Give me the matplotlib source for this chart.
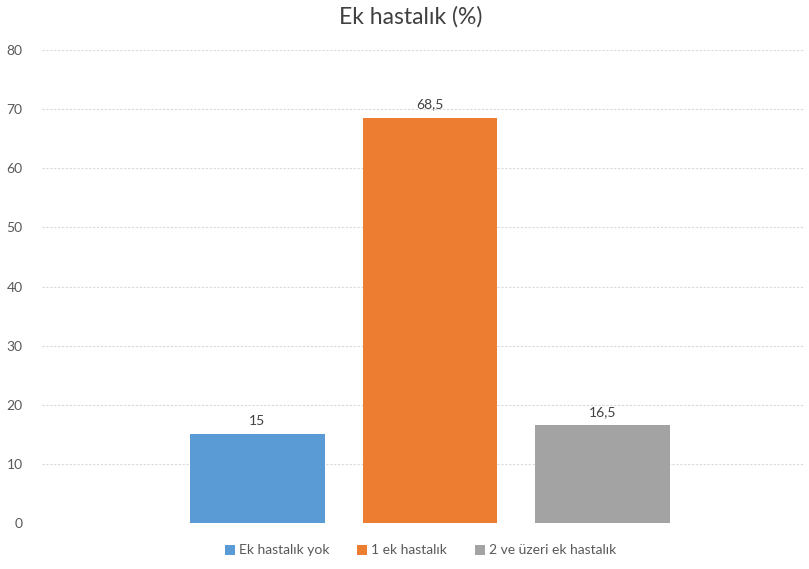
import matplotlib.pyplot as plt
import numpy as np

plt.rcParams['font.family'] = ['Lato', 'DejaVu Sans']

labels = ['Ek hastalık yok', '1 ek hastalık', '2 ve üzeri ek hastalık']
values = [15, 68.5, 16.5]
value_text = ['15', '68,5', '16,5']
colors = ['#5B9BD5', '#ED7D31', '#A3A3A3']

fig = plt.figure(figsize=(8.09, 5.69), dpi=100)
ax = fig.add_axes([42 / 809, 1 - 523 / 569, 763 / 809, 473 / 569])

x = np.arange(len(values))
for i in range(len(values)):
    ax.bar(x[i], values[i], width=0.78, color=colors[i], label=labels[i], zorder=3)
    ax.text(x[i], values[i] + 1.3, value_text[i], ha='center', va='bottom',
            fontsize=10, color='#404040')

ax.set_xlim(-1.249, 3.174)
ax.set_ylim(0, 80)
ax.set_yticks(range(0, 81, 10))
ax.yaxis.grid(True, color='#D9D9D9', linestyle=(0, (2, 1.5)), linewidth=0.8, zorder=0)
ax.set_xticks([])
for s in ax.spines.values():
    s.set_visible(False)
ax.tick_params(axis='y', length=0, labelsize=10, labelcolor='#595959', pad=14)

fig.suptitle('Ek hastalık (%)', x=0.508, y=0.99, fontsize=16.5, color='#404040')

fig.legend(loc='lower center', bbox_to_anchor=(0.52, 0.0), ncol=3, frameon=False,
           fontsize=10, labelcolor='#595959', handlelength=0.7, handleheight=0.7,
           handletextpad=0.3, columnspacing=2.0)

fig.savefig('out.png', dpi=100)
